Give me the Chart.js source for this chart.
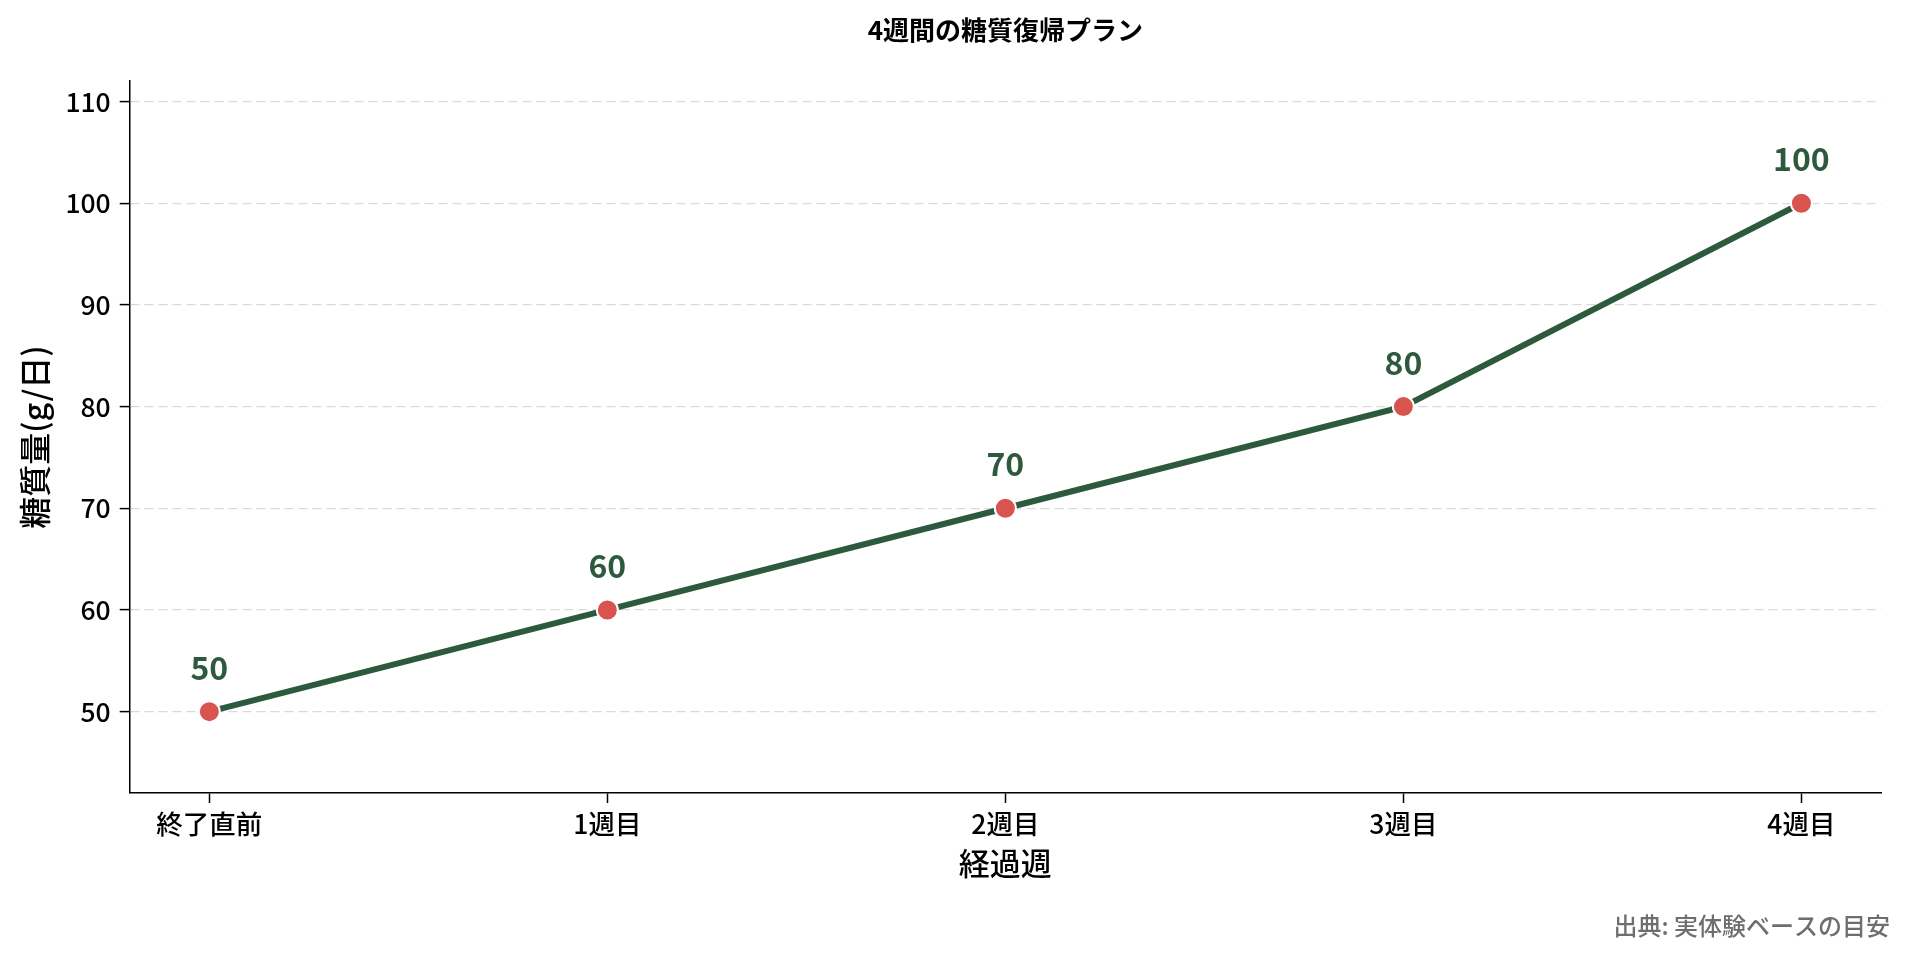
<!DOCTYPE html>
<html>
<head>
<meta charset="utf-8">
<title>4週間の糖質復帰プラン</title>
<script src="https://cdn.jsdelivr.net/npm/chart.js@4/dist/chart.umd.min.js"></script>
<style>
  html, body { margin: 0; padding: 0; background: #fff; }
  #canvas { display: block; }
</style>
</head>
<body>
<canvas id="canvas" width="1910" height="959"></canvas>
<script>
// data
var weeks = ['終了直前', '1週目', '2週目', '3週目', '4週目'];
var carbs = [50, 60, 70, 80, 100];
var yTicks = [50, 60, 70, 80, 90, 100, 110];

var FONT = '"Noto Sans CJK JP", "Noto Sans", sans-serif';
var GREEN = '#2d5a3d';
var RED = '#d9534f';

// value labels over the points + source note
var labelPlugin = {
    id: 'labels',
    afterDatasetsDraw: function(chart) {
        var ctx = chart.ctx;
        var meta = chart.getDatasetMeta(0);
        ctx.save();
        ctx.font = 'bold 32px ' + FONT;
        ctx.fillStyle = GREEN;
        ctx.textAlign = 'center';
        ctx.textBaseline = 'middle';
        for (var i = 0; i < meta.data.length; i++) {
            var pt = meta.data[i];
            ctx.fillText(String(carbs[i]), pt.x, pt.y - 44);
        }
        ctx.restore();
    },
    afterDraw: function(chart) {
        var ctx = chart.ctx;
        ctx.save();
        ctx.font = '500 24px ' + FONT;
        ctx.fillStyle = '#6e6e6e';
        ctx.textAlign = 'right';
        ctx.textBaseline = 'middle';
        ctx.fillText('出典: 実体験ベースの目安', 1890, 926);
        ctx.restore();
    }
};

var points = [];
for (var i = 0; i < weeks.length; i++) {
    points.push({ x: i, y: carbs[i] });
}

var ctx = document.getElementById('canvas');
var chart = new Chart(ctx, {
    type: 'line',
    data: {
        datasets: [{
            label: '糖質量',
            data: points,
            borderColor: GREEN,
            borderWidth: 6,
            tension: 0,
            pointRadius: 10.5,
            pointHoverRadius: 10.5,
            pointBackgroundColor: RED,
            pointBorderColor: '#ffffff',
            pointBorderWidth: 2
        }]
    },
    options: {
        responsive: false,
        animation: false,
        layout: {
            padding: { left: 16, right: 29, top: 0, bottom: 77 }
        },
        plugins: {
            legend: { display: false },
            tooltip: { enabled: false },
            title: {
                display: true,
                text: '4週間の糖質復帰プラン',
                fullSize: false,
                color: '#000',
                font: { family: FONT, size: 26, weight: 'bold' },
                padding: { top: 15, bottom: 35 }
            }
        },
        scales: {
            x: {
                type: 'linear',
                min: -0.2,
                max: 4.2,
                afterBuildTicks: function(scale) {
                    scale.ticks = weeks.map(function(w, i) { return { value: i }; });
                },
                ticks: {
                    color: '#000',
                    padding: 5,
                    font: { family: FONT, size: 26.5, weight: 500 },
                    callback: function(v) { return weeks[v]; }
                },
                grid: {
                    drawOnChartArea: false,
                    drawTicks: true,
                    tickLength: 10,
                    tickColor: '#000',
                    tickWidth: 1.5
                },
                border: { display: true, color: '#000', width: 1.5 },
                title: {
                    display: true,
                    text: '経過週',
                    color: '#000',
                    font: { family: FONT, size: 31, weight: 500 },
                    padding: { top: 0, bottom: 0 }
                }
            },
            y: {
                min: 42,
                max: 112,
                afterBuildTicks: function(scale) {
                    scale.ticks = yTicks.map(function(v) { return { value: v }; });
                },
                ticks: {
                    color: '#000',
                    padding: 9,
                    font: { family: FONT, size: 26.5, weight: 500 }
                },
                grid: {
                    color: '#d9d9d9',
                    lineWidth: 1.2,
                    drawTicks: true,
                    tickLength: 10,
                    tickColor: '#000',
                    tickWidth: 1.5,
                    tickBorderDash: []
                },
                border: { display: true, color: '#000', width: 1.5, dash: [9, 5] },
                title: {
                    display: true,
                    text: '糖質量(g/日)',
                    color: '#000',
                    font: { family: FONT, size: 32, weight: 500 },
                    padding: { top: 0, bottom: 2 }
                }
            }
        }
    },
    plugins: [labelPlugin]
});
</script>
</body>
</html>
